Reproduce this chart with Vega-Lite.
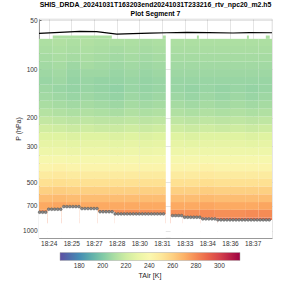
{
"$schema": "https://vega.github.io/schema/vega-lite/v6.json",
"width": 233, "height": 219,
"autosize": "none",
"padding": {"left": 39, "top": 19, "right": 28, "bottom": 62},
"background": "white",
"title": {"text": ["SHIS_DRDA_20241031T163203end20241031T233216_rtv_npc20_m2.h5", "Plot Segment 7"], "fontSize": 6.9, "fontWeight": "bold", "font": "Liberation Sans", "color": "#000", "anchor": "middle", "offset": 0, "lineHeight": 9},
"config": {
  "view": {"stroke": "#cccccc", "strokeWidth": 0.7},
  "axis": {"labelFont": "Liberation Sans", "titleFont": "Liberation Sans", "labelFontSize": 6.5, "titleFontSize": 7, "titleFontWeight": "normal", "labelColor": "#333", "titleColor": "#222", "gridColor": "#000", "gridOpacity": 0.1, "domainColor": "#999", "tickColor": "#666", "tickSize": -2, "labelPadding": 4, "zindex": 1, "labelOverlap": false},
  "legend": {"labelFont": "Liberation Sans", "titleFont": "Liberation Sans"}
},
"datasets": {
  "lev": [
    {"l":0,"p0":65,"p1":72},{"l":1,"p0":72,"p1":80},{"l":2,"p0":80,"p1":90},{"l":3,"p0":90,"p1":100},
    {"l":4,"p0":100,"p1":112},{"l":5,"p0":112,"p1":125},{"l":6,"p0":125,"p1":140},{"l":7,"p0":140,"p1":157},
    {"l":8,"p0":157,"p1":176},{"l":9,"p0":176,"p1":197},{"l":10,"p0":197,"p1":220},{"l":11,"p0":220,"p1":246},
    {"l":12,"p0":246,"p1":275},{"l":13,"p0":275,"p1":307},{"l":14,"p0":307,"p1":343},{"l":15,"p0":343,"p1":383},
    {"l":16,"p0":383,"p1":428},{"l":17,"p0":428,"p1":478},{"l":18,"p0":478,"p1":534},{"l":19,"p0":534,"p1":596},
    {"l":20,"p0":596,"p1":665},{"l":21,"p0":665,"p1":743},{"l":22,"p0":743,"p1":830},{"l":23,"p0":830,"p1":900}
  ],
  "col": [
    {"c":0,"t0":23.36,"t1":24.27},{"c":1,"t0":24.27,"t1":25.2},{"c":2,"t0":25.2,"t1":26.1},{"c":3,"t0":26.1,"t1":27.0},
    {"c":4,"t0":27.0,"t1":28.0},{"c":5,"t0":28.0,"t1":29.0},{"c":6,"t0":29.0,"t1":30.0},{"c":7,"t0":30.0,"t1":30.9},
    {"c":8,"t0":30.9,"t1":31.75},{"c":9,"t0":32.07,"t1":33.0},{"c":10,"t0":33.0,"t1":34.0},{"c":11,"t0":34.0,"t1":35.0},
    {"c":12,"t0":35.0,"t1":36.0},{"c":13,"t0":36.0,"t1":37.0},{"c":14,"t0":37.0,"t1":37.9},{"c":15,"t0":37.9,"t1":38.78}
  ],
  "cells": [
{"c":0,"l":0,"T":211},{"c":0,"l":1,"T":210},{"c":0,"l":2,"T":209},{"c":0,"l":3,"T":208},{"c":0,"l":4,"T":207},{"c":0,"l":5,"T":206},{"c":0,"l":6,"T":207},{"c":0,"l":7,"T":208},{"c":0,"l":8,"T":210},{"c":0,"l":9,"T":213},{"c":0,"l":10,"T":217},{"c":0,"l":11,"T":221},{"c":0,"l":12,"T":225},{"c":0,"l":13,"T":229},{"c":0,"l":14,"T":233},{"c":0,"l":15,"T":238},{"c":0,"l":16,"T":243},{"c":0,"l":17,"T":248},{"c":0,"l":18,"T":254},{"c":0,"l":19,"T":260},{"c":0,"l":20,"T":266},{"c":0,"l":21,"T":272},{"c":0,"l":22,"T":279},{"c":0,"l":23,"T":285},
{"c":1,"l":0,"T":212},{"c":1,"l":1,"T":211},{"c":1,"l":2,"T":210},{"c":1,"l":3,"T":209},{"c":1,"l":4,"T":208},{"c":1,"l":5,"T":207},{"c":1,"l":6,"T":206},{"c":1,"l":7,"T":207},{"c":1,"l":8,"T":209},{"c":1,"l":9,"T":212},{"c":1,"l":10,"T":216},{"c":1,"l":11,"T":220},{"c":1,"l":12,"T":225},{"c":1,"l":13,"T":229},{"c":1,"l":14,"T":233},{"c":1,"l":15,"T":238},{"c":1,"l":16,"T":244},{"c":1,"l":17,"T":249},{"c":1,"l":18,"T":255},{"c":1,"l":19,"T":261},{"c":1,"l":20,"T":267},{"c":1,"l":21,"T":273},{"c":1,"l":22,"T":280},{"c":1,"l":23,"T":285},
{"c":2,"l":0,"T":211},{"c":2,"l":1,"T":210},{"c":2,"l":2,"T":209},{"c":2,"l":3,"T":207},{"c":2,"l":4,"T":206},{"c":2,"l":5,"T":205},{"c":2,"l":6,"T":205},{"c":2,"l":7,"T":206},{"c":2,"l":8,"T":208},{"c":2,"l":9,"T":211},{"c":2,"l":10,"T":215},{"c":2,"l":11,"T":219},{"c":2,"l":12,"T":224},{"c":2,"l":13,"T":228},{"c":2,"l":14,"T":232},{"c":2,"l":15,"T":237},{"c":2,"l":16,"T":243},{"c":2,"l":17,"T":248},{"c":2,"l":18,"T":254},{"c":2,"l":19,"T":260},{"c":2,"l":20,"T":266},{"c":2,"l":21,"T":272},{"c":2,"l":22,"T":279},{"c":2,"l":23,"T":284},
{"c":3,"l":0,"T":212},{"c":3,"l":1,"T":211},{"c":3,"l":2,"T":210},{"c":3,"l":3,"T":209},{"c":3,"l":4,"T":207},{"c":3,"l":5,"T":206},{"c":3,"l":6,"T":206},{"c":3,"l":7,"T":207},{"c":3,"l":8,"T":209},{"c":3,"l":9,"T":212},{"c":3,"l":10,"T":216},{"c":3,"l":11,"T":220},{"c":3,"l":12,"T":225},{"c":3,"l":13,"T":229},{"c":3,"l":14,"T":233},{"c":3,"l":15,"T":238},{"c":3,"l":16,"T":243},{"c":3,"l":17,"T":248},{"c":3,"l":18,"T":254},{"c":3,"l":19,"T":260},{"c":3,"l":20,"T":266},{"c":3,"l":21,"T":272},{"c":3,"l":22,"T":279},{"c":3,"l":23,"T":284},
{"c":4,"l":0,"T":211},{"c":4,"l":1,"T":210},{"c":4,"l":2,"T":209},{"c":4,"l":3,"T":208},{"c":4,"l":4,"T":207},{"c":4,"l":5,"T":205},{"c":4,"l":6,"T":205},{"c":4,"l":7,"T":206},{"c":4,"l":8,"T":208},{"c":4,"l":9,"T":211},{"c":4,"l":10,"T":215},{"c":4,"l":11,"T":219},{"c":4,"l":12,"T":225},{"c":4,"l":13,"T":229},{"c":4,"l":14,"T":233},{"c":4,"l":15,"T":238},{"c":4,"l":16,"T":243},{"c":4,"l":17,"T":248},{"c":4,"l":18,"T":254},{"c":4,"l":19,"T":260},{"c":4,"l":20,"T":266},{"c":4,"l":21,"T":272},{"c":4,"l":22,"T":279},{"c":4,"l":23,"T":285},
{"c":5,"l":0,"T":211},{"c":5,"l":1,"T":209},{"c":5,"l":2,"T":208},{"c":5,"l":3,"T":207},{"c":5,"l":4,"T":206},{"c":5,"l":5,"T":205},{"c":5,"l":6,"T":204},{"c":5,"l":7,"T":205},{"c":5,"l":8,"T":207},{"c":5,"l":9,"T":210},{"c":5,"l":10,"T":215},{"c":5,"l":11,"T":219},{"c":5,"l":12,"T":224},{"c":5,"l":13,"T":228},{"c":5,"l":14,"T":232},{"c":5,"l":15,"T":237},{"c":5,"l":16,"T":243},{"c":5,"l":17,"T":248},{"c":5,"l":18,"T":254},{"c":5,"l":19,"T":260},{"c":5,"l":20,"T":266},{"c":5,"l":21,"T":272},{"c":5,"l":22,"T":279},{"c":5,"l":23,"T":285},
{"c":6,"l":0,"T":211},{"c":6,"l":1,"T":210},{"c":6,"l":2,"T":209},{"c":6,"l":3,"T":208},{"c":6,"l":4,"T":207},{"c":6,"l":5,"T":206},{"c":6,"l":6,"T":206},{"c":6,"l":7,"T":207},{"c":6,"l":8,"T":209},{"c":6,"l":9,"T":212},{"c":6,"l":10,"T":216},{"c":6,"l":11,"T":220},{"c":6,"l":12,"T":225},{"c":6,"l":13,"T":229},{"c":6,"l":14,"T":233},{"c":6,"l":15,"T":238},{"c":6,"l":16,"T":243},{"c":6,"l":17,"T":248},{"c":6,"l":18,"T":254},{"c":6,"l":19,"T":260},{"c":6,"l":20,"T":266},{"c":6,"l":21,"T":272},{"c":6,"l":22,"T":279},{"c":6,"l":23,"T":285},
{"c":7,"l":0,"T":210},{"c":7,"l":1,"T":209},{"c":7,"l":2,"T":208},{"c":7,"l":3,"T":207},{"c":7,"l":4,"T":206},{"c":7,"l":5,"T":205},{"c":7,"l":6,"T":205},{"c":7,"l":7,"T":206},{"c":7,"l":8,"T":208},{"c":7,"l":9,"T":211},{"c":7,"l":10,"T":215},{"c":7,"l":11,"T":219},{"c":7,"l":12,"T":224},{"c":7,"l":13,"T":228},{"c":7,"l":14,"T":232},{"c":7,"l":15,"T":237},{"c":7,"l":16,"T":243},{"c":7,"l":17,"T":248},{"c":7,"l":18,"T":254},{"c":7,"l":19,"T":260},{"c":7,"l":20,"T":266},{"c":7,"l":21,"T":272},{"c":7,"l":22,"T":279},{"c":7,"l":23,"T":285},
{"c":8,"l":0,"T":211},{"c":8,"l":1,"T":210},{"c":8,"l":2,"T":209},{"c":8,"l":3,"T":208},{"c":8,"l":4,"T":207},{"c":8,"l":5,"T":206},{"c":8,"l":6,"T":206},{"c":8,"l":7,"T":207},{"c":8,"l":8,"T":209},{"c":8,"l":9,"T":212},{"c":8,"l":10,"T":216},{"c":8,"l":11,"T":220},{"c":8,"l":12,"T":225},{"c":8,"l":13,"T":229},{"c":8,"l":14,"T":233},{"c":8,"l":15,"T":238},{"c":8,"l":16,"T":243},{"c":8,"l":17,"T":248},{"c":8,"l":18,"T":254},{"c":8,"l":19,"T":260},{"c":8,"l":20,"T":266},{"c":8,"l":21,"T":272},{"c":8,"l":22,"T":279},{"c":8,"l":23,"T":285},
{"c":9,"l":0,"T":211},{"c":9,"l":1,"T":210},{"c":9,"l":2,"T":209},{"c":9,"l":3,"T":208},{"c":9,"l":4,"T":207},{"c":9,"l":5,"T":206},{"c":9,"l":6,"T":206},{"c":9,"l":7,"T":207},{"c":9,"l":8,"T":209},{"c":9,"l":9,"T":212},{"c":9,"l":10,"T":216},{"c":9,"l":11,"T":220},{"c":9,"l":12,"T":225},{"c":9,"l":13,"T":229},{"c":9,"l":14,"T":233},{"c":9,"l":15,"T":238},{"c":9,"l":16,"T":243},{"c":9,"l":17,"T":248},{"c":9,"l":18,"T":254},{"c":9,"l":19,"T":260},{"c":9,"l":20,"T":266},{"c":9,"l":21,"T":272},{"c":9,"l":22,"T":279},{"c":9,"l":23,"T":285},
{"c":10,"l":0,"T":211},{"c":10,"l":1,"T":210},{"c":10,"l":2,"T":209},{"c":10,"l":3,"T":208},{"c":10,"l":4,"T":207},{"c":10,"l":5,"T":206},{"c":10,"l":6,"T":205},{"c":10,"l":7,"T":206},{"c":10,"l":8,"T":208},{"c":10,"l":9,"T":211},{"c":10,"l":10,"T":215},{"c":10,"l":11,"T":219},{"c":10,"l":12,"T":224},{"c":10,"l":13,"T":228},{"c":10,"l":14,"T":233},{"c":10,"l":15,"T":238},{"c":10,"l":16,"T":243},{"c":10,"l":17,"T":248},{"c":10,"l":18,"T":254},{"c":10,"l":19,"T":260},{"c":10,"l":20,"T":266},{"c":10,"l":21,"T":272},{"c":10,"l":22,"T":279},{"c":10,"l":23,"T":286},
{"c":11,"l":0,"T":211},{"c":11,"l":1,"T":210},{"c":11,"l":2,"T":209},{"c":11,"l":3,"T":208},{"c":11,"l":4,"T":207},{"c":11,"l":5,"T":206},{"c":11,"l":6,"T":206},{"c":11,"l":7,"T":207},{"c":11,"l":8,"T":209},{"c":11,"l":9,"T":212},{"c":11,"l":10,"T":216},{"c":11,"l":11,"T":220},{"c":11,"l":12,"T":225},{"c":11,"l":13,"T":229},{"c":11,"l":14,"T":233},{"c":11,"l":15,"T":238},{"c":11,"l":16,"T":244},{"c":11,"l":17,"T":249},{"c":11,"l":18,"T":255},{"c":11,"l":19,"T":261},{"c":11,"l":20,"T":267},{"c":11,"l":21,"T":273},{"c":11,"l":22,"T":280},{"c":11,"l":23,"T":286},
{"c":12,"l":0,"T":211},{"c":12,"l":1,"T":210},{"c":12,"l":2,"T":209},{"c":12,"l":3,"T":208},{"c":12,"l":4,"T":207},{"c":12,"l":5,"T":206},{"c":12,"l":6,"T":205},{"c":12,"l":7,"T":206},{"c":12,"l":8,"T":208},{"c":12,"l":9,"T":211},{"c":12,"l":10,"T":215},{"c":12,"l":11,"T":219},{"c":12,"l":12,"T":225},{"c":12,"l":13,"T":229},{"c":12,"l":14,"T":233},{"c":12,"l":15,"T":238},{"c":12,"l":16,"T":243},{"c":12,"l":17,"T":248},{"c":12,"l":18,"T":254},{"c":12,"l":19,"T":260},{"c":12,"l":20,"T":266},{"c":12,"l":21,"T":272},{"c":12,"l":22,"T":279},{"c":12,"l":23,"T":286},
{"c":13,"l":0,"T":211},{"c":13,"l":1,"T":210},{"c":13,"l":2,"T":209},{"c":13,"l":3,"T":208},{"c":13,"l":4,"T":207},{"c":13,"l":5,"T":206},{"c":13,"l":6,"T":206},{"c":13,"l":7,"T":207},{"c":13,"l":8,"T":209},{"c":13,"l":9,"T":212},{"c":13,"l":10,"T":216},{"c":13,"l":11,"T":220},{"c":13,"l":12,"T":225},{"c":13,"l":13,"T":229},{"c":13,"l":14,"T":233},{"c":13,"l":15,"T":238},{"c":13,"l":16,"T":243},{"c":13,"l":17,"T":248},{"c":13,"l":18,"T":254},{"c":13,"l":19,"T":260},{"c":13,"l":20,"T":266},{"c":13,"l":21,"T":272},{"c":13,"l":22,"T":279},{"c":13,"l":23,"T":286},
{"c":14,"l":0,"T":211},{"c":14,"l":1,"T":210},{"c":14,"l":2,"T":209},{"c":14,"l":3,"T":208},{"c":14,"l":4,"T":207},{"c":14,"l":5,"T":206},{"c":14,"l":6,"T":205},{"c":14,"l":7,"T":206},{"c":14,"l":8,"T":208},{"c":14,"l":9,"T":211},{"c":14,"l":10,"T":215},{"c":14,"l":11,"T":219},{"c":14,"l":12,"T":224},{"c":14,"l":13,"T":228},{"c":14,"l":14,"T":233},{"c":14,"l":15,"T":238},{"c":14,"l":16,"T":243},{"c":14,"l":17,"T":248},{"c":14,"l":18,"T":254},{"c":14,"l":19,"T":260},{"c":14,"l":20,"T":266},{"c":14,"l":21,"T":272},{"c":14,"l":22,"T":280},{"c":14,"l":23,"T":286},
{"c":15,"l":0,"T":211},{"c":15,"l":1,"T":210},{"c":15,"l":2,"T":209},{"c":15,"l":3,"T":208},{"c":15,"l":4,"T":207},{"c":15,"l":5,"T":206},{"c":15,"l":6,"T":206},{"c":15,"l":7,"T":207},{"c":15,"l":8,"T":209},{"c":15,"l":9,"T":212},{"c":15,"l":10,"T":216},{"c":15,"l":11,"T":220},{"c":15,"l":12,"T":225},{"c":15,"l":13,"T":229},{"c":15,"l":14,"T":233},{"c":15,"l":15,"T":238},{"c":15,"l":16,"T":243},{"c":15,"l":17,"T":248},{"c":15,"l":18,"T":254},{"c":15,"l":19,"T":260},{"c":15,"l":20,"T":266},{"c":15,"l":21,"T":273},{"c":15,"l":22,"T":280},{"c":15,"l":23,"T":286}
  ],
  "cap": [
    {"t0":24.27,"t1":28.18,"p0":62,"p1":65,"T":211},{"t0":31.56,"t1":31.75,"p0":62,"p1":65,"T":211},
    {"t0":33.81,"t1":33.94,"p0":62,"p1":65,"T":211},{"t0":37.12,"t1":37.25,"p0":62,"p1":65,"T":211},
    {"t0":38.37,"t1":38.63,"p0":62,"p1":65,"T":211}
  ],
  "sfc": [
    {"t0":23.36,"t1":23.92,"ps":769},{"t0":23.92,"t1":24.86,"ps":737},{"t0":24.86,"t1":26.06,"ps":710},
    {"t0":26.06,"t1":27.25,"ps":730},{"t0":27.25,"t1":28.38,"ps":764},{"t0":28.38,"t1":31.75,"ps":788},
    {"t0":32.07,"t1":32.88,"ps":807},{"t0":32.88,"t1":34.07,"ps":826},{"t0":34.07,"t1":35.19,"ps":846},
    {"t0":35.19,"t1":38.78,"ps":858}
  ],
  "pts": [
    {"t":23.4,"ps":769},{"t":23.6,"ps":769},{"t":23.8,"ps":769},
    {"t":24.0,"ps":737},{"t":24.2,"ps":737},{"t":24.4,"ps":737},{"t":24.6,"ps":737},{"t":24.8,"ps":737},
    {"t":25.0,"ps":710},{"t":25.2,"ps":710},{"t":25.4,"ps":710},{"t":25.6,"ps":710},{"t":25.8,"ps":710},{"t":26.0,"ps":710},
    {"t":26.2,"ps":730},{"t":26.4,"ps":730},{"t":26.6,"ps":730},{"t":26.8,"ps":730},{"t":27.0,"ps":730},{"t":27.2,"ps":730},
    {"t":27.4,"ps":764},{"t":27.6,"ps":764},{"t":27.8,"ps":764},{"t":28.0,"ps":764},{"t":28.2,"ps":764},
    {"t":28.4,"ps":788},{"t":28.6,"ps":788},{"t":28.8,"ps":788},{"t":29.0,"ps":788},{"t":29.2,"ps":788},{"t":29.4,"ps":788},{"t":29.6,"ps":788},{"t":29.8,"ps":788},{"t":30.0,"ps":788},{"t":30.2,"ps":788},{"t":30.4,"ps":788},{"t":30.6,"ps":788},{"t":30.8,"ps":788},{"t":31.0,"ps":788},{"t":31.2,"ps":788},{"t":31.4,"ps":788},{"t":31.6,"ps":788},
    {"t":32.2,"ps":807},{"t":32.4,"ps":807},{"t":32.6,"ps":807},{"t":32.8,"ps":807},
    {"t":33.0,"ps":826},{"t":33.2,"ps":826},{"t":33.4,"ps":826},{"t":33.6,"ps":826},{"t":33.8,"ps":826},{"t":34.0,"ps":826},
    {"t":34.2,"ps":846},{"t":34.4,"ps":846},{"t":34.6,"ps":846},{"t":34.8,"ps":846},{"t":35.0,"ps":846},
    {"t":35.2,"ps":858},{"t":35.4,"ps":858},{"t":35.6,"ps":858},{"t":35.8,"ps":858},{"t":36.0,"ps":858},{"t":36.2,"ps":858},{"t":36.4,"ps":858},{"t":36.6,"ps":858},{"t":36.8,"ps":858},{"t":37.0,"ps":858},{"t":37.2,"ps":858},{"t":37.4,"ps":858},{"t":37.6,"ps":858},{"t":37.8,"ps":858},{"t":38.0,"ps":858},{"t":38.2,"ps":858},{"t":38.4,"ps":858},{"t":38.6,"ps":858}
  ],
  "trop": [
    {"t":23.36,"p":60.2},{"t":24.73,"p":59.3},{"t":26.06,"p":58.5},{"t":27.18,"p":58.7},{"t":28.51,"p":60.7},
    {"t":29.57,"p":60.4},{"t":30.7,"p":60.0},{"t":31.82,"p":59.6},{"t":33.15,"p":59.3},{"t":34.6,"p":59.5},
    {"t":36.2,"p":59.8},{"t":37.3,"p":59.5},{"t":38.78,"p":59.6}
  ]
},
"layer": [
  {
    "data": {"name": "cells"},
    "transform": [
      {"lookup": "l", "from": {"data": {"name": "lev"}, "key": "l", "fields": ["p0", "p1"]}},
      {"lookup": "c", "from": {"data": {"name": "col"}, "key": "c", "fields": ["t0", "t1"]}}
    ],
    "mark": {"type": "rect"},
    "encoding": {
      "x": {"field": "t0", "type": "quantitative", "scale": {"domain": [23.36, 38.78], "nice": false, "zero": false},
            "axis": {"title": null, "values": [24, 25.5, 27, 28.5, 30, 31.5, 33, 34.5, 36, 37.5], "tickCount": 30, "labelExpr": "'18:' + floor(datum.value)", "grid": true, "labelOverlap": false, "labelBound": false, "labelFlush": false}},
      "x2": {"field": "t1"},
      "y": {"field": "p0", "type": "quantitative", "scale": {"type": "log", "domain": [49, 1110], "reverse": true, "nice": false},
            "axis": {"title": "P (hPa)", "values": [50, 100, 200, 300, 500, 700, 1000], "tickCount": 30, "format": "d", "grid": true, "titlePadding": 1, "labelOverlap": false}},
      "y2": {"field": "p1"},
      "color": {"field": "T", "type": "quantitative", "scale": {"scheme": "spectral", "reverse": true, "domain": [163.5, 317.7]},
                "legend": {"orient": "none", "legendX": 21, "legendY": 233.5, "direction": "horizontal", "gradientLength": 180, "gradientThickness": 8,
                           "title": "TAir [K]", "titleOrient": "bottom", "titleAnchor": "middle", "values": [180, 200, 220, 240, 260, 280, 300], "tickCount": 20,
                           "labelFontSize": 6.5, "titleFontSize": 7, "titleFontWeight": "normal", "padding": 0, "labelOverlap": false,
                           "labelOffset": 2, "titlePadding": 2, "gradientStrokeColor": "#aaa", "gradientStrokeWidth": 0.5, "labelColor": "#333", "titleColor": "#222"}}
    }
  },
  {
    "data": {"name": "cap"},
    "mark": {"type": "rect"},
    "encoding": {
      "x": {"field": "t0", "type": "quantitative"},
      "x2": {"field": "t1"},
      "y": {"field": "p0", "type": "quantitative"},
      "y2": {"field": "p1"},
      "color": {"field": "T", "type": "quantitative"}
    }
  },
  {
    "data": {"name": "sfc"},
    "mark": {"type": "rect", "color": "white"},
    "encoding": {
      "x": {"field": "t0", "type": "quantitative"},
      "x2": {"field": "t1"},
      "y": {"field": "ps", "type": "quantitative"},
      "y2": {"datum": 1110}
    }
  },
  {
    "data": {"name": "trop"},
    "mark": {"type": "line", "color": "black", "strokeWidth": 1.2},
    "encoding": {
      "x": {"field": "t", "type": "quantitative"},
      "y": {"field": "p", "type": "quantitative"}
    }
  },
  {
    "data": {"name": "pts"},
    "mark": {"type": "point", "filled": true, "color": "#8a8a8a", "stroke": "#444", "strokeWidth": 0.4, "size": 8, "opacity": 1},
    "encoding": {
      "x": {"field": "t", "type": "quantitative"},
      "y": {"field": "ps", "type": "quantitative"}
    }
  }
]
}
